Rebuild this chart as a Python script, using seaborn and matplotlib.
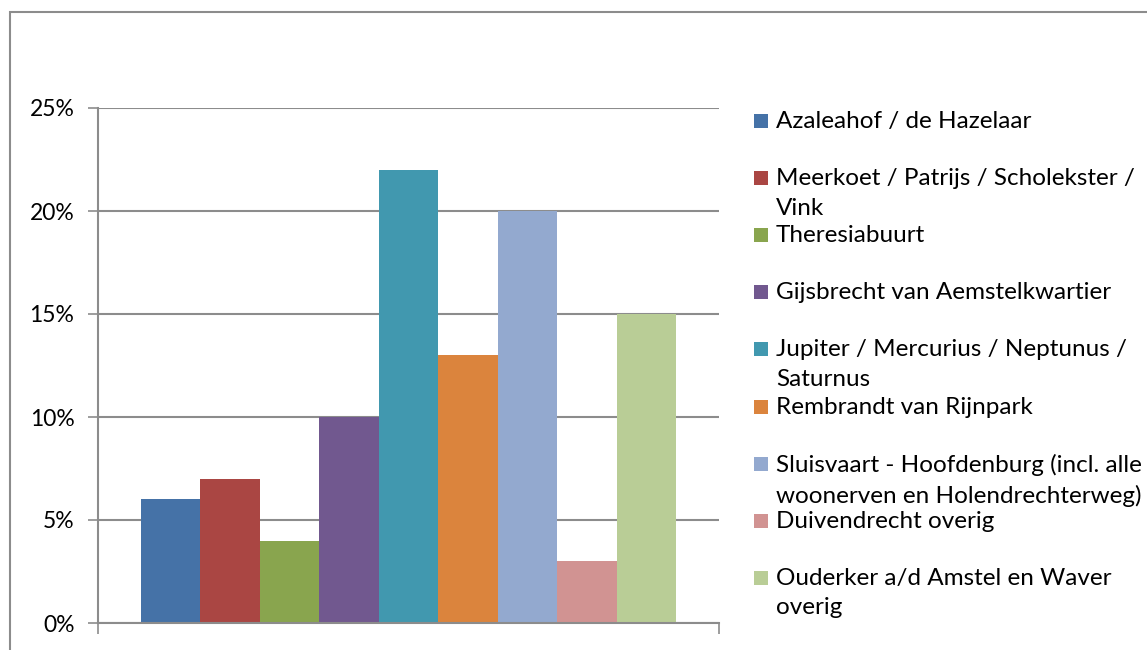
import matplotlib
matplotlib.use("Agg")
import matplotlib.pyplot as plt
import matplotlib.patches as mpatches
from matplotlib.ticker import FuncFormatter
import pandas as pd
import seaborn as sns

wijken = [
    "Azaleahof / de Hazelaar",
    "Meerkoet / Patrijs / Scholekster /\nVink",
    "Theresiabuurt",
    "Gijsbrecht van Aemstelkwartier",
    "Jupiter / Mercurius / Neptunus /\nSaturnus",
    "Rembrandt van Rijnpark",
    "Sluisvaart - Hoofdenburg (incl. alle\nwoonerven en Holendrechterweg)",
    "Duivendrecht overig",
    "Ouderker a/d Amstel en Waver\noverig",
]
aandeel = [0.06, 0.07, 0.04, 0.10, 0.22, 0.13, 0.20, 0.03, 0.15]
kleuren = ["#4572A7", "#AA4643", "#89A54E", "#71588F", "#4198AF",
           "#DB843D", "#93A9CF", "#D19392", "#B9CD96"]
y_ticks = [0, 0.05, 0.10, 0.15, 0.20, 0.25]

df = pd.DataFrame({"groep": [""] * len(wijken), "wijk": wijken, "aandeel": aandeel})

sns.set_style("white")
plt.rcParams["font.family"] = ["Lato", "DejaVu Sans"]

fig = plt.figure(figsize=(11.47, 6.5), dpi=100)
ax = fig.add_axes([98 / 1147, 27 / 650, 621 / 1147, 515 / 650])

sns.barplot(data=df, x="groep", y="aandeel", hue="wijk", hue_order=wijken,
            palette=kleuren, saturation=1, width=0.862, legend=False,
            linewidth=0, edgecolor="none", ax=ax)

grid_c = "#8c8c8c"
ax.set_ylim(0, 0.25)
ax.set_xlim(-0.5, 0.5)
ax.set_yticks(y_ticks)
ax.yaxis.set_major_formatter(FuncFormatter(lambda v, p: f"{v * 100:.0f}%"))
ax.set_xticks([-0.5, 0.5])
ax.set_xticklabels(["", ""])
ax.set_xlabel("")
ax.set_ylabel("")
ax.set_axisbelow(True)
ax.yaxis.grid(True, color=grid_c, linewidth=1.5)
ax.tick_params(axis="y", length=7, width=1.2, color=grid_c, labelsize=16.5,
               labelcolor="black", pad=10)
ax.tick_params(axis="x", length=8, width=1.2, color=grid_c)
ax.tick_params(left=True, bottom=True)
for s in ["top", "right"]:
    ax.spines[s].set_visible(False)
for s in ["left", "bottom"]:
    ax.spines[s].set_color(grid_c)
    ax.spines[s].set_linewidth(1.5)

# legend, laid out like the spreadsheet legend
W, H = 1147, 650
for i, (lab, col) in enumerate(zip(wijken, kleuren)):
    yc = 121 + i * 57.1
    fig.patches.append(mpatches.Rectangle(
        (754 / W, 1 - (yc + 7) / H), 14 / W, 14 / H,
        transform=fig.transFigure, facecolor=col, edgecolor="none"))
    fig.text(776 / W, 1 - (yc - 10) / H, lab, fontsize=17.5, va="top", ha="left",
             linespacing=1.5, color="black")

# outer chart border
fig.patches.append(mpatches.Rectangle(
    (10 / W, -0.1), 1.2, 1 - 12 / H + 0.1, transform=fig.transFigure,
    facecolor="none", edgecolor="#8c8c8c", linewidth=1.5))

fig.savefig("out.png", dpi=100)
